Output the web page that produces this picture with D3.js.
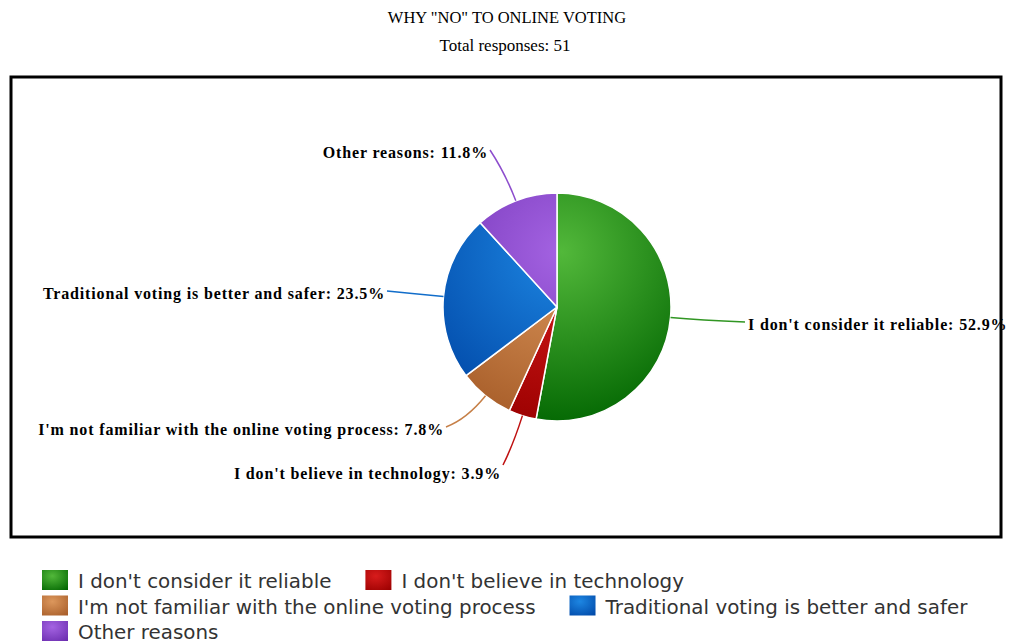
<!DOCTYPE html>
<html><head><meta charset="utf-8">
<script src="https://cdn.jsdelivr.net/npm/d3@7"></script>
<style>body{margin:0;background:#fff}svg{display:block}</style>
</head><body>
<svg id="chart" width="1013" height="643"></svg>
<script>
const categories = ["I don't consider it reliable","I don't believe in technology","I'm not familiar with the online voting process","Traditional voting is better and safer","Other reasons"];
const counts = [27, 2, 4, 12, 6];
const percents = [52.9, 3.9, 7.8, 23.5, 11.8];
const totalResponses = 51;
const lightColors = ["#52b83a","#d81c1c","#dc975c","#1d86e2","#a463e2"];
const darkColors  = ["#006400","#9a0000","#a65c28","#0047a6","#6a2cae"];
// label end points relative to pie center (layout only)
const labelEnds = [[188,15],[-54,158],[-111,120],[-170,-16],[-67,-157]];

const svg = d3.select("#chart");
const W = 1013, H = 643;
const cx = 557, cy = 307, R = 114;

svg.append("text").attr("x", 507).attr("y", 23).attr("text-anchor","middle")
  .style("font-family","Liberation Serif").style("font-size","16.5px").text('WHY "NO" TO ONLINE VOTING');
svg.append("text").attr("x", 505).attr("y", 51).attr("text-anchor","middle")
  .style("font-family","Liberation Serif").style("font-size","17px").text("Total responses: " + totalResponses);

svg.append("rect").attr("x",11).attr("y",77).attr("width",990).attr("height",460)
  .attr("fill","none").attr("stroke","#000").attr("stroke-width",3);

const defs = svg.append("defs");
categories.forEach((c,i)=>{
  const g = defs.append("radialGradient").attr("id","pg"+i).attr("gradientUnits","userSpaceOnUse")
    .attr("cx",5).attr("cy",-55).attr("r",R*1.6);
  g.append("stop").attr("offset","0%").attr("stop-color",lightColors[i]);
  g.append("stop").attr("offset","100%").attr("stop-color",darkColors[i]);
  const lg = defs.append("radialGradient").attr("id","lg"+i).attr("cx","0.4").attr("cy","0.3").attr("r","0.9");
  lg.append("stop").attr("offset","0%").attr("stop-color",lightColors[i]);
  lg.append("stop").attr("offset","100%").attr("stop-color",darkColors[i]);
});

const data = categories.map((c,i)=>({name:c, value:counts[i], pct:percents[i], i}));
const pie = d3.pie().sort(null).value(d=>d.value);
const arcs = pie(data);
const arc = d3.arc().innerRadius(0).outerRadius(R);

svg.selectAll("path.slice").data(arcs).join("path").attr("class","slice")
  .attr("d",arc).attr("transform",`translate(${cx},${cy})`)
  .attr("fill",d=>`url(#pg${d.data.i})`).attr("stroke","#fff").attr("stroke-width",1.5);

// leader lines & labels
arcs.forEach((d,k)=>{
  const a = (d.startAngle+d.endAngle)/2;
  const p0 = [R*Math.sin(a), -R*Math.cos(a)];
  const p1 = [(R+30)*Math.sin(a), -(R+30)*Math.cos(a)];
  const e = labelEnds[k];
  const path = d3.path();
  path.moveTo(p0[0],p0[1]);
  path.quadraticCurveTo(p1[0],p1[1],e[0],e[1]);
  svg.append("path").attr("d",path.toString()).attr("transform",`translate(${cx},${cy})`)
    .attr("fill","none").attr("stroke",d3.interpolateRgb(lightColors[k],darkColors[k])(0.4)).attr("stroke-width",1.5);
  const right = e[0] > 0;
  svg.append("text").attr("x",cx+e[0]+(right?3:-2)).attr("y",cy+e[1]+(k===1?14:8))
    .attr("text-anchor",right?"start":"end")
    .style("font-family","Liberation Serif").style("font-weight","bold").style("font-size","16px")
    .style("letter-spacing","0.85px")
    .text(`${d.data.name}: ${d.data.pct.toFixed(1)}%`);
});

// legend
const rows = [[0,1],[2,3],[4]];
rows.forEach((row,r)=>{
  let x = 42;
  const y = 570 + r*25.5;
  row.forEach(i=>{
    svg.append("rect").attr("x",x).attr("y",y).attr("width",26).attr("height",20).attr("fill",`url(#lg${i})`);
    const t = svg.append("text").attr("x",x+36).attr("y",y+18)
      .style("font-family","DejaVu Sans")
      .style("font-size","19.9px").attr("fill","#333").text(categories[i]);
    x = x + 36 + t.node().getComputedTextLength() + 34;
  });
});
</script>
</body></html>
